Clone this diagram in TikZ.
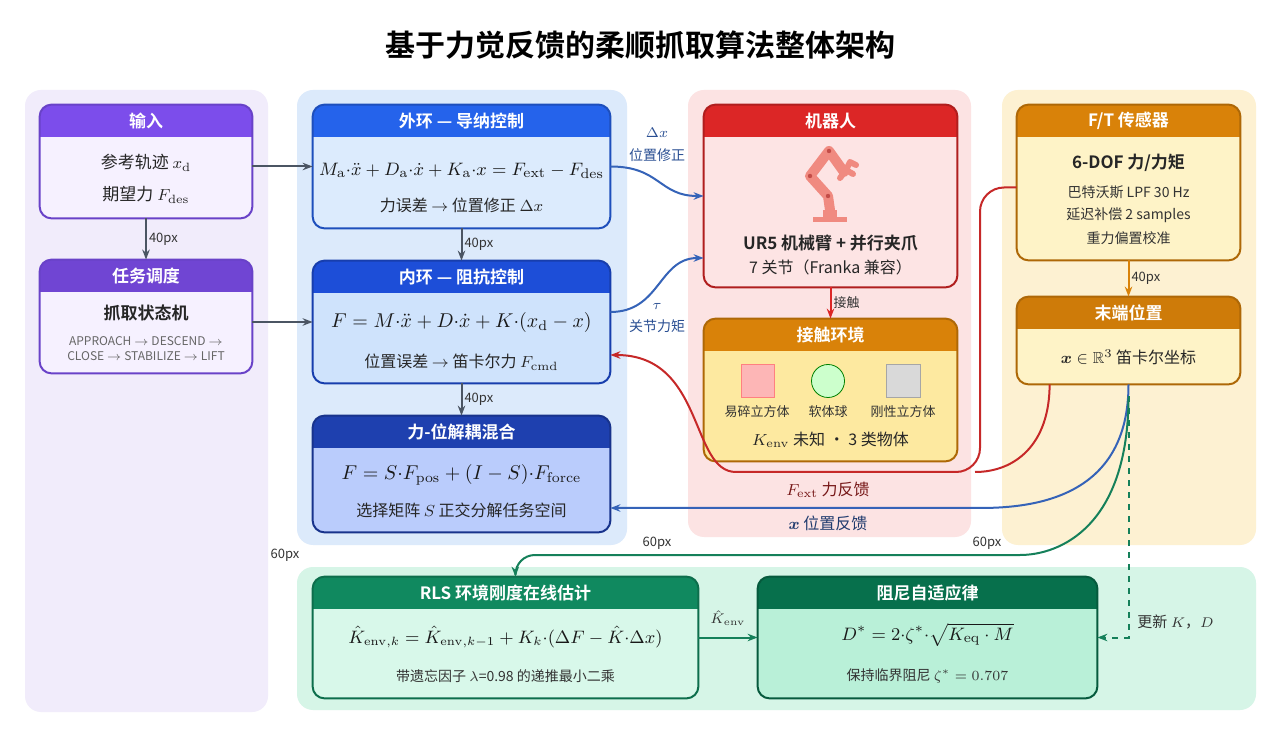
\documentclass[tikz,border=0pt]{standalone}
\usepackage{amsmath,amssymb}
\usepackage[no-math]{fontspec}
\setmainfont{Noto Sans CJK SC}[BoldFont={Noto Sans CJK SC Bold}]
\usetikzlibrary{calc,arrows.meta}
\definecolor{purhd}{HTML}{7C4DEB}
\definecolor{purbd}{HTML}{F6F1FF}
\definecolor{bluhd}{HTML}{2563EB}
\definecolor{bluhdb}{HTML}{1D4ED8}
\definecolor{bluhdc}{HTML}{1E40AF}
\definecolor{blubd}{HTML}{DCEBFD}
\definecolor{blubdb}{HTML}{CFE3FC}
\definecolor{redhd}{HTML}{DC2626}
\definecolor{redbd}{HTML}{FDE4E4}
\definecolor{orghd}{HTML}{D98209}
\definecolor{orgbd}{HTML}{FEF3C7}
\definecolor{orgbdb}{HTML}{FDE9A0}
\definecolor{grnhd}{HTML}{10895F}
\definecolor{grnhdb}{HTML}{07704C}
\definecolor{grnbd}{HTML}{D8F8EA}
\definecolor{grnbdb}{HTML}{B9F0D8}
\definecolor{lanepur}{HTML}{F1ECFB}
\definecolor{laneblu}{HTML}{DCEAFB}
\definecolor{lanered}{HTML}{FCE3E3}
\definecolor{laneyel}{HTML}{FDF1D2}
\definecolor{lanegrn}{HTML}{D6F5E7}
\definecolor{robo}{HTML}{F08A80}
\definecolor{arrgray}{HTML}{4B5563}
\definecolor{fbblue}{HTML}{3563B8}
\definecolor{fbred}{HTML}{C62828}
\definecolor{fbgrn}{HTML}{15805A}
\tikzset{
  box/.style={inner sep=0pt},
  headtext/.style={text=white,font=\bfseries\fontsize{8.5}{10}\selectfont},
  txt/.style={font=\fontsize{8}{10}\selectfont,text=black!85},
  eq/.style={font=\fontsize{9.5}{11}\selectfont,text=black!90,inner sep=1pt},
  small/.style={font=\fontsize{6}{7}\selectfont,text=black!60},
  lab/.style={font=\fontsize{6.5}{8}\selectfont,text=black!80,inner sep=1pt},
  arr/.style={-{Stealth[length=5pt]},line width=1pt,arrgray},
  lane/.style={rounded corners=8pt},
}
% box with header band
\newcommand\boxhead[5]{% node, header colour, body colour, border colour, title
  \fill[rounded corners=6pt,#3] (#1.north west) rectangle (#1.south east);
  \begin{scope}
    \clip[rounded corners=6pt] (#1.north west) rectangle (#1.south east);
    \fill[#2] (#1.north west) rectangle ([yshift=-16pt]#1.north east);
  \end{scope}
  \node[headtext] at ([yshift=-8pt]#1.north) {#5};
  \draw[rounded corners=6pt,#4,line width=1pt] (#1.north west) rectangle (#1.south east);}
\begin{document}
\begin{tikzpicture}[x=0.5pt,y=-0.5pt]
\useasboundingbox[fill=white] (0,0) rectangle (1280,737);
\node[font=\bfseries\fontsize{15}{18}\selectfont] (title) at (640,45) {基于力觉反馈的柔顺抓取算法整体架构};
% lanes
\fill[lane,lanepur] (25,90) rectangle (268,712);
\fill[lane,laneblu] (297,90) rectangle (627,545);
\fill[lane,lanered] (688,90) rectangle (971,537);
\fill[lane,laneyel] (1002,90) rectangle (1256,545);
\fill[lane,lanegrn] (297,567) rectangle (1256,710);
% boxes
\node[box,minimum width=106pt,minimum height=56.5pt] (input) at (146,161.5) {};
\node[box,minimum width=106pt,minimum height=56.5pt] (task) at (146,316.5) {};
\node[box,minimum width=148.5pt,minimum height=61.5pt] (outer) at (461.5,166.5) {};
\node[box,minimum width=148.5pt,minimum height=61pt] (inner) at (461.5,322) {};
\node[box,minimum width=148.5pt,minimum height=58pt] (mix) at (461.5,474) {};
\node[box,minimum width=126.5pt,minimum height=91pt] (robot) at (830.5,196) {};
\node[box,minimum width=126.5pt,minimum height=71pt] (env) at (830.5,390) {};
\node[box,minimum width=111.5pt,minimum height=77.5pt] (ft) at (1128.5,182.5) {};
\node[box,minimum width=111.5pt,minimum height=43.5pt] (tip) at (1128.5,340.5) {};
\node[box,minimum width=192.5pt,minimum height=60.5pt] (rls) at (505.5,637.5) {};
\node[box,minimum width=169.5pt,minimum height=60.5pt] (damp) at (927.5,637.5) {};
\boxhead{input}{purhd}{purbd}{purhd!85!black}{输入}
\boxhead{task}{purhd!90!black}{purbd}{purhd!85!black}{任务调度}
\boxhead{outer}{bluhd}{blubd}{bluhd!80!black}{外环 — 导纳控制}
\boxhead{inner}{bluhdb}{blubdb}{bluhdb!80!black}{内环 — 阻抗控制}
\boxhead{mix}{bluhdc}{blubdb!90!blue}{bluhdc!80!black}{力-位解耦混合}
\boxhead{robot}{redhd}{redbd}{redhd!80!black}{机器人}
\boxhead{env}{orghd}{orgbdb}{orghd!80!black}{接触环境}
\boxhead{ft}{orghd}{orgbd}{orghd!80!black}{F/T 传感器}
\boxhead{tip}{orghd!95!black}{orgbd}{orghd!80!black}{末端位置}
\boxhead{rls}{grnhd}{grnbd}{grnhd!80!black}{RLS 环境刚度在线估计}
\boxhead{damp}{grnhdb}{grnbdb}{grnhdb!80!black}{阻尼自适应律}
% box texts
\node[txt,font=\fontsize{8.5}{10}\selectfont] (inA) at (146,163) {参考轨迹 $x_\mathrm{d}$};
\node[txt,font=\fontsize{8.5}{10}\selectfont] (inB) at (146,195) {期望力 $F_\mathrm{des}$};
\node[txt,font=\bfseries\fontsize{8.5}{10}\selectfont] (taskA) at (146,313) {抓取状态机};
\node[small] (taskB) at (146,341) {APPROACH $\rightarrow$ DESCEND $\rightarrow$};
\node[small] (taskC) at (146,356) {CLOSE $\rightarrow$ STABILIZE $\rightarrow$ LIFT};
\node[eq] (outA) at (461.5,171) {$M_\mathrm{a}{\cdot}\ddot{x}+D_\mathrm{a}{\cdot}\dot{x}+K_\mathrm{a}{\cdot}x=F_\mathrm{ext}-F_\mathrm{des}$};
\node[txt] (outB) at (461.5,205) {力误差 $\rightarrow$ 位置修正 $\Delta x$};
\node[eq,font=\fontsize{10}{12}\selectfont] (innA) at (461.5,323) {$F=M{\cdot}\ddot{x}+D{\cdot}\dot{x}+K{\cdot}(x_\mathrm{d}-x)$};
\node[txt] (innB) at (461.5,362) {位置误差 $\rightarrow$ 笛卡尔力 $F_\mathrm{cmd}$};
\node[eq,font=\fontsize{10}{12}\selectfont] (mixA) at (461.5,475) {$F=S{\cdot}F_\mathrm{pos}+(I-S){\cdot}F_\mathrm{force}$};
\node[txt] (mixB) at (461.5,510) {选择矩阵 $S$ 正交分解任务空间};
% robot icon
\begin{scope}[line cap=round,line join=round]
  \fill[robo] (813,217) rectangle (847,222);
  \fill[robo] (823,210) rectangle (837,217);
  \draw[robo,line width=5pt] (830,210) -- (828,196) -- (810,176) -- (829,151) -- (844,172);
  \draw[robo,line width=3pt] (840,178) -- (846,170) -- (853,174) (846,170) -- (850,162) -- (856,165);
  \foreach \p in {(828,196),(810,176),(829,151)} \fill[robo!70!red!80!black] \p circle (2.2);
\end{scope}
\node[txt,font=\bfseries\fontsize{8.5}{10}\selectfont] (robA) at (830.5,243) {UR5 机械臂 + 并行夹爪};
\node[txt] (robB) at (830.5,267) {7 关节（Franka 兼容）};
\draw[fill=redbd!80!red,draw=red!50] (741,364) rectangle (774,397);
\draw[fill=green!20,draw=green!50!black] (828,381) circle (16.5);
\draw[fill=gray!30,draw=gray!70] (886,364) rectangle (920,397);
\node[lab] (envA) at (757,412) {易碎立方体};
\node[lab] (envB) at (828,412) {软体球};
\node[lab] (envC) at (903,412) {刚性立方体};
\node[txt] (envD) at (830.5,440) {$K_\mathrm{env}$ 未知 · 3 类物体};
\node[txt,font=\bfseries\fontsize{8.5}{10}\selectfont] (ftA) at (1128.5,163) {6-DOF 力/力矩};
\node[lab,font=\fontsize{7}{8}\selectfont] (ftB) at (1128.5,192) {巴特沃斯 LPF 30 Hz};
\node[lab,font=\fontsize{7}{8}\selectfont] (ftC) at (1128.5,215) {延迟补偿 2 samples};
\node[lab,font=\fontsize{7}{8}\selectfont] (ftD) at (1128.5,238) {重力偏置校准};
\node[txt] (tipA) at (1128.5,357) {$\boldsymbol{x}\in\mathbb{R}^3$ 笛卡尔坐标};
\node[eq,font=\fontsize{9}{11}\selectfont] (rlsA) at (505.5,637) {$\hat K_{\mathrm{env},k}=\hat K_{\mathrm{env},k-1}+K_k{\cdot}(\Delta F-\hat K{\cdot}\Delta x)$};
\node[lab,font=\fontsize{7}{8}\selectfont] (rlsB) at (505.5,676) {带遗忘因子 $\lambda$=0.98 的递推最小二乘};
\node[eq] (dampA) at (927.5,635) {$D^*=2{\cdot}\zeta^*{\cdot}\sqrt{K_\mathrm{eq}\cdot M}$};
\node[lab,font=\fontsize{7}{8}\selectfont] (dampB) at (927.5,676) {保持临界阻尼 $\zeta^*=0.707$};
% straight connectors
\draw[arr] (input.east |- outer.west) -- (outer.west);
\draw[arr] (task.east |- inner.west) -- (inner.west);
\draw[arr] (input.south) -- (task.north) node[midway,right,lab] {40px};
\draw[arr] (outer.south) -- (inner.north) node[midway,right,lab] {40px};
\draw[arr] (inner.south) -- (mix.north) node[midway,right,lab] {40px};
\draw[arr,orghd] (ft.south) -- (tip.north) node[midway,right,lab] {40px};
\draw[arr,redhd] (robot.south) -- (env.north) node[midway,right,lab] {接触};
% feedback curves
\draw[arr,fbblue] (outer.east) .. controls +(50,0) and +(-45,0) .. (robot.west);
\node[lab,text=fbblue!80!black,font=\fontsize{7.5}{8}\selectfont] (dxA) at (657,133) {$\Delta x$};
\node[lab,text=fbblue!80!black,font=\fontsize{7}{8}\selectfont] (dxB) at (657,155) {位置修正};
\draw[arr,fbblue] ($(inner.east)+(0,-10)$) .. controls +(50,0) and +(-45,0) .. ($(robot.west)+(0,62)$);
\node[lab,text=fbblue!80!black,font=\fontsize{7.5}{8}\selectfont] (tauA) at (657,306) {$\tau$};
\node[lab,text=fbblue!80!black,font=\fontsize{7}{8}\selectfont] (tauB) at (657,326) {关节力矩};
\draw[arr,fbred,line width=1pt,rounded corners=12pt] ($(ft.west)+(0,5)$) -| (980,472) -- (760,472) .. controls (690,472) and (705,355) .. ($(inner.east)+(0,33)$);
\draw[fbred,line width=1pt] ($(tip.south west)+(33,0)$) .. controls +(0,60) and +(40,0) .. (975,472);
\node[txt,text=fbred!60!black] (fext) at (828,490) {$F_\mathrm{ext}$ 力反馈};
\draw[arr,fbblue] (tip.south) .. controls +(0,110) and +(60,0) .. (980,508) -- ($(mix.east)+(0,34)$);
\node[txt,text=fbblue!60!black] (xfb) at (828,523) {$\boldsymbol{x}$ 位置反馈};
\draw[arr,fbgrn,rounded corners=10pt] ($(tip.south)+(0,12)$) .. controls +(0,130) and +(60,0) .. (1000,555) -- (515,555) -- ($(rls.north)+(10,0)$);
\draw[arr,fbgrn,dashed] ($(tip.south)+(0,12)$) |- (damp.east);
\node[lab,anchor=west,font=\fontsize{7.5}{8}\selectfont] (upd) at (1135,622) {更新 $K$，$D$};
\draw[arr,fbgrn] (rls.east) -- (damp.west);
\node[lab,font=\fontsize{7.5}{8}\selectfont] (khat) at (728,618) {$\hat K_\mathrm{env}$};
\node[lab] (gA) at (285,555) {60px};
\node[lab] (gB) at (657,543) {60px};
\node[lab] (gC) at (987,543) {60px};
\end{tikzpicture}
\end{document}
